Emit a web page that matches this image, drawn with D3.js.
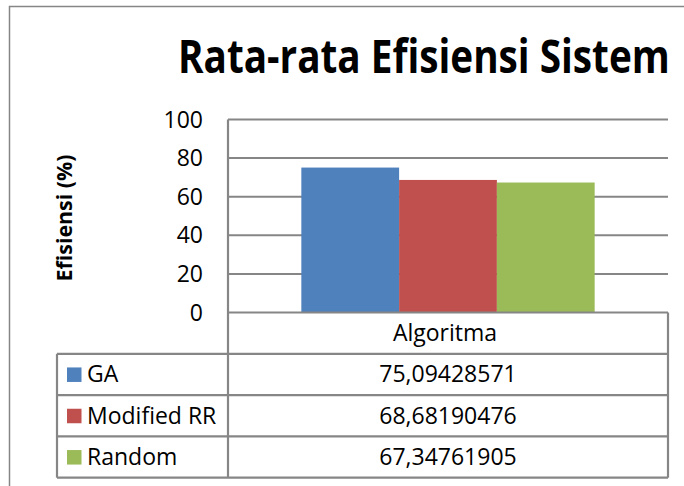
<!DOCTYPE html>
<html>
<head>
<meta charset="utf-8">
<script src="https://cdn.jsdelivr.net/npm/d3@7"></script>
<style>
  body { margin: 0; background: #fff; }
  svg { display: block; font-family: "Open Sans", sans-serif; }
</style>
</head>
<body>
<div id="chart"></div>
<script>
// data
var category = "Algoritma";
var seriesNames = ["GA", "Modified RR", "Random"];
var seriesValues = [75.09428571, 68.68190476, 67.34761905];
var seriesColors = ["#4F81BD", "#C0504D", "#9BBB59"];
var yTicks = [0, 20, 40, 60, 80, 100];
var titleText = "Rata-rata Efisiensi Sistem";
var yLabel = "Efisiensi (%)";

var W = 684, H = 486;
var grey = "#868686";

// plot box
var plot = {left: 228, right: 668, top: 119.5, bottom: 312.5};
var rowH = 41.3;
var tableLeft = 57;

var svg = d3.select("#chart").append("svg")
    .attr("width", W)
    .attr("height", H);

// outer chart border (only top and left visible in the crop)
svg.append("path")
    .attr("d", "M9.5," + H + "V6.5H" + W)
    .attr("fill", "none")
    .attr("stroke", grey)
    .attr("stroke-width", 1.5);

// squeeze a text horizontally to a wanted width (calibri is narrower)
function squeeze(sel, width) {
  var natural = sel.node().getComputedTextLength();
  return width / natural;
}

// title
var titleG = svg.append("g");
var title = titleG.append("text")
    .attr("font-size", 46)
    .attr("font-weight", "bold")
    .text(titleText);
titleG.attr("transform", "translate(178,73) scale(" + squeeze(title, 492) + ",1)");

// scales
var y = d3.scaleLinear().domain([0, 100]).range([plot.bottom, plot.top]);
// gap width 150% like excel
var x = d3.scaleBand()
    .domain(seriesNames)
    .range([plot.left, plot.right])
    .paddingInner(0)
    .paddingOuter(0.75);

// gridlines
svg.append("g")
  .selectAll("line")
  .data(yTicks.filter(function(d) { return d > 0; }))
  .enter().append("line")
    .attr("x1", plot.left)
    .attr("x2", plot.right)
    .attr("y1", function(d) { return y(d); })
    .attr("y2", function(d) { return y(d); })
    .attr("stroke", grey)
    .attr("stroke-width", 2);

// y tick labels
svg.append("g")
  .selectAll("text")
  .data(yTicks)
  .enter().append("text")
    .attr("x", 203)
    .attr("y", function(d) { return y(d) + 8; })
    .attr("text-anchor", "end")
    .attr("font-size", 23)
    .attr("fill", "#000")
    .text(function(d) { return d; });

// y axis title
var ylabG = svg.append("g");
var ylab = ylabG.append("text")
    .attr("text-anchor", "middle")
    .attr("font-size", 22)
    .attr("font-weight", "bold")
    .text(yLabel);
ylabG.attr("transform", "translate(72," + ((y(0) + y(100)) / 2 + 2) + ") rotate(-90) scale(" + squeeze(ylab, 127) + ",1)");

// bars
svg.append("g")
  .selectAll("rect")
  .data(seriesValues)
  .enter().append("rect")
    .attr("x", function(d, i) { return x(seriesNames[i]); })
    .attr("width", x.bandwidth())
    .attr("y", function(d) { return y(d); })
    .attr("height", function(d) { return y(0) - y(d); })
    .attr("fill", function(d, i) { return seriesColors[i]; });

// data table
var table = svg.append("g")
    .attr("fill", "none")
    .attr("stroke", grey)
    .attr("stroke-width", 2.2);

var tableBottom = plot.bottom + rowH * (seriesNames.length + 1);

// axis line + horizontal rules
table.append("line")
    .attr("x1", plot.left).attr("x2", plot.left)
    .attr("y1", plot.top).attr("y2", tableBottom);
table.append("line")
    .attr("x1", plot.right).attr("x2", plot.right)
    .attr("y1", plot.bottom).attr("y2", tableBottom);
table.append("line")
    .attr("x1", tableLeft).attr("x2", tableLeft)
    .attr("y1", plot.bottom + rowH).attr("y2", tableBottom);
table.append("line")
    .attr("x1", plot.left).attr("x2", plot.right)
    .attr("y1", plot.bottom).attr("y2", plot.bottom);
table.selectAll(".row")
  .data(d3.range(seriesNames.length + 1))
  .enter().append("line")
    .attr("x1", tableLeft).attr("x2", plot.right)
    .attr("y1", function(d) { return plot.bottom + rowH * (d + 1); })
    .attr("y2", function(d) { return plot.bottom + rowH * (d + 1); });

var midX = (plot.left + plot.right) / 2;

// category header
svg.append("text")
    .attr("x", midX - 3)
    .attr("y", plot.bottom + rowH / 2 + 8)
    .attr("text-anchor", "middle")
    .attr("font-size", 23)
    .text(category);

var fmt = function(v) { return v.toFixed(8).replace(".", ","); };

var rows = svg.append("g")
  .selectAll("g")
  .data(seriesNames)
  .enter().append("g")
    .attr("transform", function(d, i) {
      return "translate(0," + (plot.bottom + rowH * (i + 1) + rowH / 2) + ")";
    });

rows.append("rect")
    .attr("x", 67)
    .attr("y", -7)
    .attr("width", 14.5)
    .attr("height", 14.5)
    .attr("fill", function(d, i) { return seriesColors[i]; });

rows.append("text")
    .attr("x", 87)
    .attr("y", 8)
    .attr("font-size", 23)
    .text(function(d) { return d; });

rows.append("text")
    .attr("x", midX)
    .attr("y", 8)
    .attr("text-anchor", "middle")
    .attr("font-size", 23)
    .text(function(d, i) { return fmt(seriesValues[i]); });
</script>
</body>
</html>
